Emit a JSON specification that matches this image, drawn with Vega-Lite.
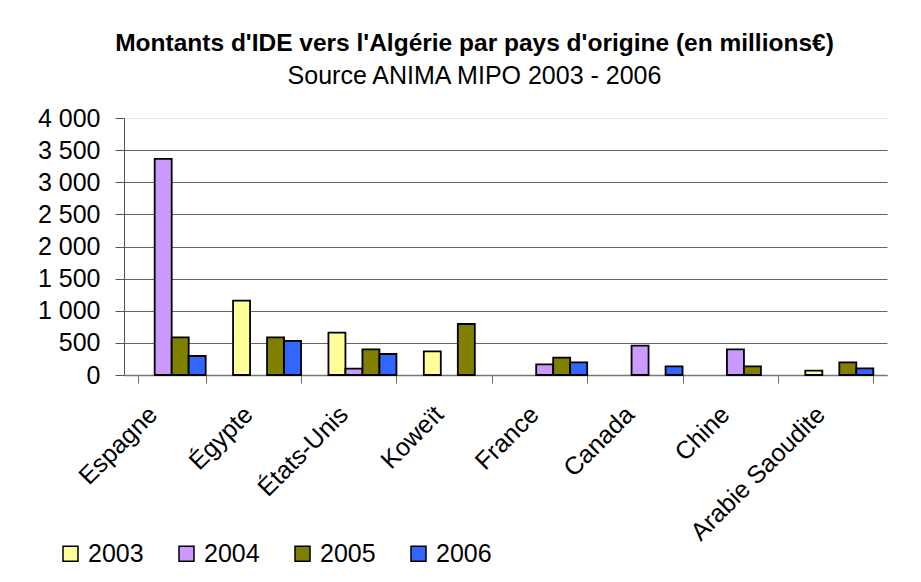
{
  "$schema": "https://vega.github.io/schema/vega-lite/v6.json",
  "width": 763,
  "height": 257,
  "autosize": {"type": "none"},
  "padding": {"left": 124, "top": 118, "right": 34, "bottom": 207},
  "background": "white",
  "title": {
    "text": "Montants d'IDE vers l'Algérie par pays d'origine (en millions€)",
    "subtitle": "Source ANIMA MIPO 2003 - 2006",
    "anchor": "middle",
    "dx": -31,
    "font": "Liberation Sans",
    "fontSize": 24.5,
    "fontWeight": "bold",
    "color": "black",
    "subtitleFont": "Liberation Sans",
    "subtitleFontSize": 25,
    "subtitleColor": "black",
    "subtitlePadding": 8,
    "offset": 16
  },
  "data": {
    "values": [
      {"pays": "Espagne", "annee": "2004", "montant": 3364},
      {"pays": "Espagne", "annee": "2005", "montant": 587},
      {"pays": "Espagne", "annee": "2006", "montant": 296},
      {"pays": "Égypte", "annee": "2003", "montant": 1157},
      {"pays": "Égypte", "annee": "2005", "montant": 587},
      {"pays": "Égypte", "annee": "2006", "montant": 530},
      {"pays": "États-Unis", "annee": "2003", "montant": 659},
      {"pays": "États-Unis", "annee": "2004", "montant": 98},
      {"pays": "États-Unis", "annee": "2005", "montant": 400},
      {"pays": "États-Unis", "annee": "2006", "montant": 327},
      {"pays": "Koweït", "annee": "2003", "montant": 369},
      {"pays": "Koweït", "annee": "2005", "montant": 794},
      {"pays": "France", "annee": "2004", "montant": 166},
      {"pays": "France", "annee": "2005", "montant": 270},
      {"pays": "France", "annee": "2006", "montant": 198},
      {"pays": "Canada", "annee": "2004", "montant": 457},
      {"pays": "Canada", "annee": "2006", "montant": 135},
      {"pays": "Chine", "annee": "2004", "montant": 400},
      {"pays": "Chine", "annee": "2005", "montant": 135},
      {"pays": "Arabie Saoudite", "annee": "2003", "montant": 67},
      {"pays": "Arabie Saoudite", "annee": "2005", "montant": 198},
      {"pays": "Arabie Saoudite", "annee": "2006", "montant": 104}
    ]
  },
  "mark": {"type": "bar", "stroke": "black", "strokeWidth": 1.8, "opacity": 1},
  "encoding": {
    "x": {
      "field": "pays",
      "type": "nominal",
      "sort": ["Espagne", "Égypte", "États-Unis", "Koweït", "France", "Canada", "Chine", "Arabie Saoudite"],
      "scale": {"paddingInner": 0.287, "paddingOuter": 0.1435},
      "axis": {
        "title": null,
        "labelAngle": -45,
        "labelAlign": "right",
        "labelBaseline": "middle",
        "labelFont": "Liberation Sans",
        "labelFontSize": 25,
        "labelColor": "black",
        "labelPadding": 27,
        "labelOffset": -19,
        "tickBand": "extent",
        "tickSize": 8,
        "tickColor": "#666",
        "domainColor": "#777",
        "domainWidth": 1.5,
        "grid": false
      }
    },
    "xOffset": {
      "field": "annee",
      "type": "nominal",
      "scale": {"domain": ["2003", "2004", "2005", "2006"], "paddingInner": 0, "paddingOuter": 0}
    },
    "y": {
      "field": "montant",
      "type": "quantitative",
      "scale": {"domain": [0, 4000], "nice": false},
      "axis": {
        "title": null,
        "values": [0, 500, 1000, 1500, 2000, 2500, 3000, 3500, 4000],
        "labelExpr": "replace(format(datum.value, ','), ',', ' ')",
        "labelFont": "Liberation Sans",
        "labelFontSize": 25,
        "labelColor": "black",
        "labelPadding": 15,
        "tickSize": 9,
        "tickColor": "#555",
        "domainColor": "#555",
        "grid": true,
        "gridColor": {"condition": {"test": "datum.value == 4000", "value": "#e6e6e6"}, "value": "#666"},
        "gridWidth": 1.2
      }
    },
    "fill": {
      "field": "annee",
      "type": "nominal",
      "scale": {"domain": ["2003", "2004", "2005", "2006"], "range": ["#FFFF99", "#CC99FF", "#808000", "#3366FF"]},
      "legend": {
        "title": null,
        "orient": "none",
        "direction": "horizontal",
        "legendX": -66,
        "legendY": 423,
        "symbolType": "square",
        "symbolSize": 225,
        "symbolStrokeColor": "black",
        "symbolStrokeWidth": 1.5,
        "symbolOpacity": 1,
        "labelFont": "Liberation Sans",
        "labelFontSize": 25,
        "labelColor": "black",
        "labelOffset": 5,
        "columnPadding": 30,
        "padding": 0
      }
    }
  },
  "config": {
    "view": {"stroke": null}
  }
}
